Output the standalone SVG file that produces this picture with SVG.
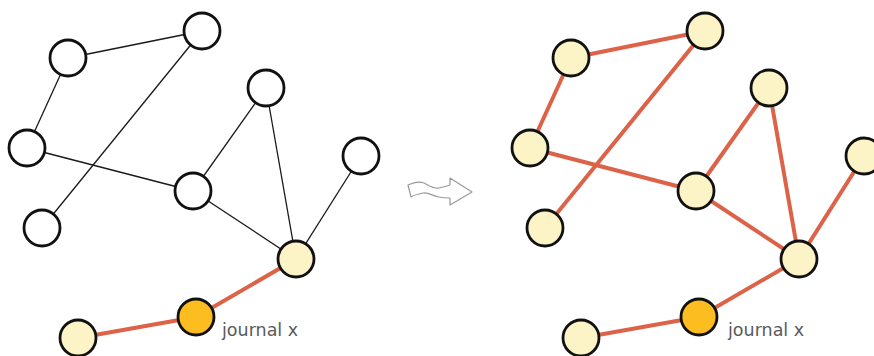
<svg xmlns="http://www.w3.org/2000/svg" width="874" height="356" viewBox="0 0 874 356">
  <style>
    .thin { stroke: #1a1a1a; stroke-width: 1.3; fill: none; }
    .red { stroke: #dc6248; stroke-width: 4; fill: none; stroke-linecap: round; }
    .node circle { stroke: #111; stroke-width: 2.8; }
    .white circle { fill: #ffffff; }
    .pale circle { fill: #fcf4c6; }
    .focus circle { fill: #fbbd1f; }
    .label { font-family: "DejaVu Sans", "Liberation Sans", sans-serif; font-size: 17.5px; fill: #5a5a5a; }
  </style>
  <rect width="874" height="356" fill="#ffffff"/>

  <!-- left network: only the two links at the focus journal are highlighted -->
  <g id="left-connectors">
    <line class="thin" x1="68" y1="58" x2="202" y2="31"/>
    <line class="thin" x1="68" y1="58" x2="27" y2="148"/>
    <line class="thin" x1="202" y1="31" x2="42" y2="228"/>
    <line class="thin" x1="27" y1="148" x2="193" y2="191"/>
    <line class="thin" x1="193" y1="191" x2="266" y2="88"/>
    <line class="thin" x1="266" y1="88" x2="296" y2="259"/>
    <line class="thin" x1="193" y1="191" x2="296" y2="259"/>
    <line class="thin" x1="361" y1="156" x2="296" y2="259"/>
    <line class="red" x1="296" y1="259" x2="196" y2="317"/>
    <line class="red" x1="196" y1="317" x2="78" y2="338"/>
  </g>
  <g id="left-a" class="node white"><circle cx="68" cy="58" r="18"/></g>
  <g id="left-b" class="node white"><circle cx="202" cy="31" r="18"/></g>
  <g id="left-c" class="node white"><circle cx="27" cy="148" r="18"/></g>
  <g id="left-d" class="node white"><circle cx="42" cy="228" r="18"/></g>
  <g id="left-e" class="node white"><circle cx="193" cy="191" r="18"/></g>
  <g id="left-f" class="node white"><circle cx="266" cy="88" r="18"/></g>
  <g id="left-g" class="node white"><circle cx="361" cy="156" r="18"/></g>
  <g id="left-h" class="node pale"><circle cx="296" cy="259" r="18"/></g>
  <g id="left-k" class="node pale"><circle cx="78" cy="338" r="18"/></g>
  <g id="left-j" class="node focus"><circle cx="196" cy="317" r="18"/>
    <text class="label" x="222" y="336">journal x</text></g>

  <!-- wavy transition arrow -->
  <g id="arrow">
    <path d="M408,185 C414,182 419,181 424,183 C430,186 434,189 439,188 C444,187 447,186 450,185 L450,178 L472,192 L450,205 L450,198 C446,198 443,198 439,197 C433,196 428,192 423,193 C418,194 414,195 411,197 Z" fill="#ffffff" stroke="#9a9a9a" stroke-width="1.2" stroke-linejoin="round"/>
  </g>

  <!-- right network: every link highlighted -->
  <g id="right-connectors">
    <line class="red" x1="571" y1="58" x2="705" y2="31"/>
    <line class="red" x1="571" y1="58" x2="530" y2="148"/>
    <line class="red" x1="705" y1="31" x2="545" y2="228"/>
    <line class="red" x1="530" y1="148" x2="696" y2="191"/>
    <line class="red" x1="696" y1="191" x2="769" y2="88"/>
    <line class="red" x1="769" y1="88" x2="799" y2="259"/>
    <line class="red" x1="696" y1="191" x2="799" y2="259"/>
    <line class="red" x1="864" y1="156" x2="799" y2="259"/>
    <line class="red" x1="799" y1="259" x2="699" y2="317"/>
    <line class="red" x1="699" y1="317" x2="581" y2="338"/>
  </g>
  <g id="right-a" class="node pale"><circle cx="571" cy="58" r="18"/></g>
  <g id="right-b" class="node pale"><circle cx="705" cy="31" r="18"/></g>
  <g id="right-c" class="node pale"><circle cx="530" cy="148" r="18"/></g>
  <g id="right-d" class="node pale"><circle cx="545" cy="228" r="18"/></g>
  <g id="right-e" class="node pale"><circle cx="696" cy="191" r="18"/></g>
  <g id="right-f" class="node pale"><circle cx="769" cy="88" r="18"/></g>
  <g id="right-g" class="node pale"><circle cx="864" cy="156" r="18"/></g>
  <g id="right-h" class="node pale"><circle cx="799" cy="259" r="18"/></g>
  <g id="right-k" class="node pale"><circle cx="581" cy="338" r="18"/></g>
  <g id="right-j" class="node focus"><circle cx="699" cy="317" r="18"/>
    <text class="label" x="728" y="336">journal x</text></g>
</svg>
